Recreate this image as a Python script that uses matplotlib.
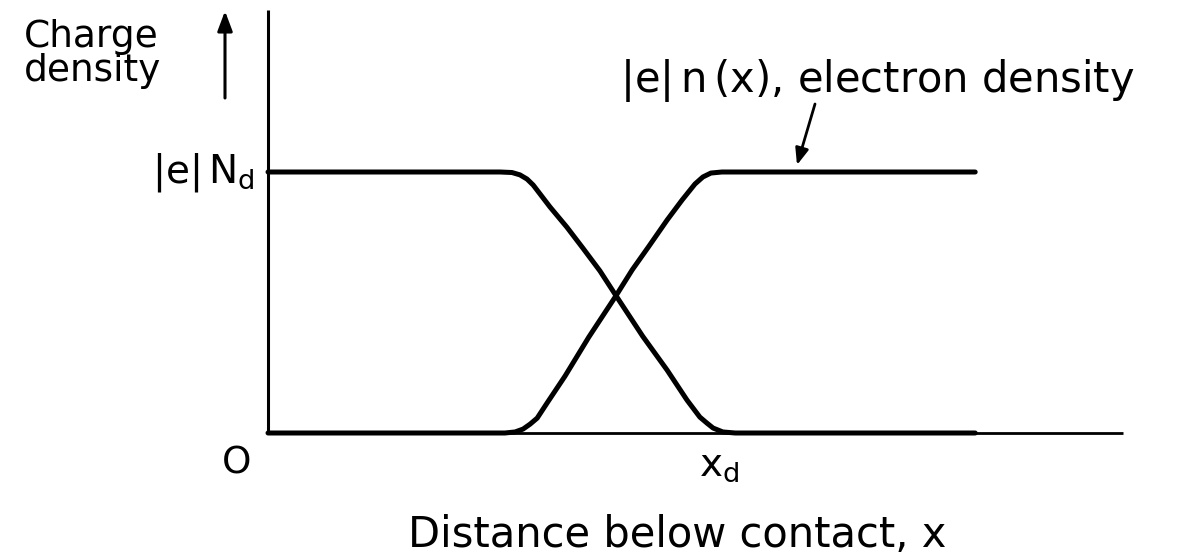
import matplotlib
matplotlib.use("Agg")
import matplotlib.pyplot as plt

plt.rcParams['mathtext.default'] = 'regular'
plt.rcParams['font.family'] = ['DejaVu Sans']

# Positions in units of the depletion width x_d; densities in units of |e| N_d
donor_x = [0.0, 0.525, 0.552, 0.570, 0.586, 0.600, 0.638, 0.676, 0.713, 0.751,
           0.787, 0.848, 0.903, 0.948, 0.977, 0.993, 1.007, 1.029, 1.057, 1.6]
donor_y = [1.0, 1.0, 0.998, 0.989, 0.973, 0.950, 0.866, 0.789, 0.707, 0.621,
           0.527, 0.370, 0.241, 0.126, 0.061, 0.038, 0.019, 0.004, 0.0, 0.0]

electron_x = [0.0, 0.536, 0.559, 0.577, 0.593, 0.609, 0.633, 0.672, 0.726,
              0.787, 0.824, 0.862, 0.903, 0.937, 0.966, 0.984, 1.002, 1.027, 1.6]
electron_y = [0.0, 0.0, 0.004, 0.015, 0.034, 0.057, 0.119, 0.218, 0.368,
              0.525, 0.625, 0.716, 0.816, 0.893, 0.954, 0.981, 0.996, 1.0, 1.0]

x_axis_end = 1.934
y_axis_end = 1.62

W, H = 1178, 557
fig = plt.figure(figsize=(W / 100, H / 100), dpi=100)
ax = fig.add_axes([0, 0, 1, 1])
ax.set_xlim(-268 / 442, (W - 268) / 442)
ax.set_ylim((433 - H) / 261, 433 / 261)
ax.axis('off')

# axes
ax.plot([0, 0], [0, y_axis_end], color='black', lw=2.2, solid_capstyle='butt')
ax.plot([0, x_axis_end], [0, 0], color='black', lw=2.0, solid_capstyle='butt')

# charge density profiles
ax.plot(donor_x, donor_y, color='black', lw=3.6, solid_joinstyle='round',
        solid_capstyle='round')
ax.plot(electron_x, electron_y, color='black', lw=3.6, solid_joinstyle='round',
        solid_capstyle='round')


def ftxt(px, py, s, fs, **kw):
    fig.text(px / W, 1 - py / H, s, fontsize=fs, color='black', **kw)


ftxt(24, 54, "Charge\ndensity", 27, ha='left', va='center',
     multialignment='left', linespacing=0.95)
ax.annotate("", xy=((225 - 268) / 442, (433 - 11) / 261),
            xytext=((225 - 268) / 442, (433 - 98) / 261),
            arrowprops=dict(arrowstyle='-|>,head_length=1.2,head_width=0.45',
                            color='black', lw=2.2, shrinkA=0, shrinkB=0))

ftxt(255, 172, r"$|e|\,N_d$", 28, ha='right', va='center')
ftxt(237, 463, "O", 27, ha='center', va='center')
ftxt(719, 465, r"$x_d$", 28, ha='center', va='center')
ftxt(677, 535, "Distance below contact, x", 30, ha='center', va='center')
ftxt(877, 80, r"$|e|\,n\,(x)$, electron density", 30, ha='center', va='center')

ax.annotate("", xy=((797 - 268) / 442, (433 - 165) / 261),
            xytext=((815 - 268) / 442, (433 - 104) / 261),
            arrowprops=dict(arrowstyle='-|>,head_length=1.0,head_width=0.4',
                            color='black', lw=2.0, shrinkA=0, shrinkB=0))

fig.savefig("out.png", dpi=100, facecolor='white')
